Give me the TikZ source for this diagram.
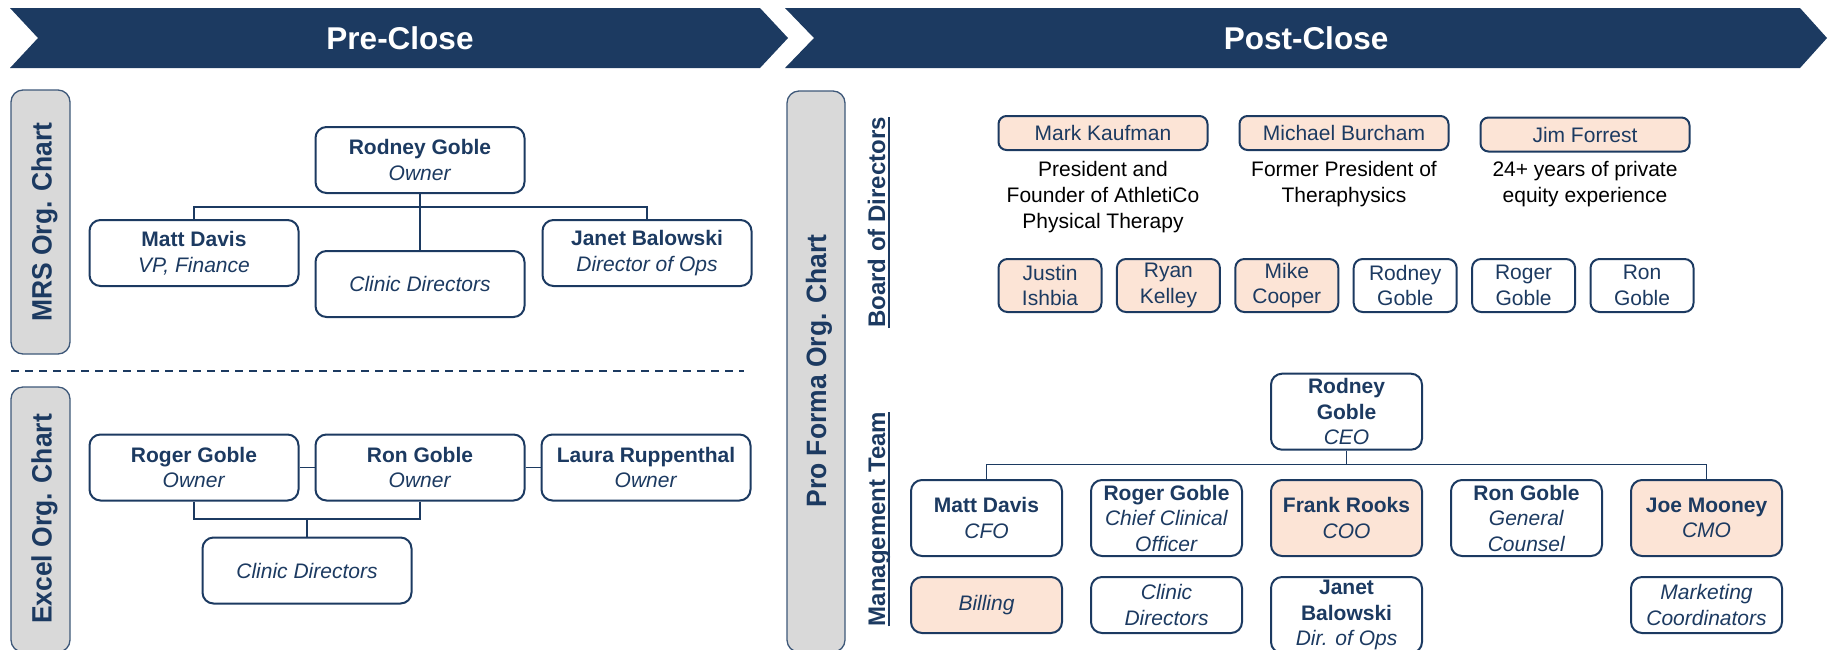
\documentclass[tikz,border=0pt]{standalone}
\usepackage{fontspec}
\setmainfont{Liberation Sans}
\newfontfamily\labelfont{Liberation Sans}[FakeStretch=0.945]
\usepackage{tikz}
\usetikzlibrary{positioning}
\usepackage{xcolor}
\definecolor{navy}{HTML}{1C3A61}
\definecolor{peach}{HTML}{FCE4D6}
\definecolor{panelgrey}{HTML}{D9D9D9}

\begin{document}
\begin{tikzpicture}[
    x=1pt, y=-1pt,
    orgbox/.style={rectangle, rounded corners=11pt, draw=navy, line width=2pt, fill=white, text=navy, align=center, inner sep=0pt, font=\fontsize{21}{25.5}\selectfont},
    peachbox/.style={orgbox, fill=peach},
    mainbox/.style={minimum width=209pt, minimum height=66pt},
    mgmtbox/.style={minimum width=151pt, minimum height=76pt},
    lowbox/.style={minimum width=151pt, minimum height=56pt},
    namebox/.style={minimum width=209pt, minimum height=34pt, rounded corners=8pt},
    smallbox/.style={minimum width=103pt, minimum height=53pt, rounded corners=9pt},
    link/.style={draw=navy, line width=1.5pt},
    banner/.style={fill=navy},
    bannertitle/.style={text=white, font=\bfseries\fontsize{31.5}{36}\selectfont},
    sidepanel/.style={fill=panelgrey, draw=navy!85, line width=1.3pt, rounded corners=12pt},
    sidetitle/.style={rotate=90, anchor=base, inner sep=0pt, text=navy, font=\labelfont\bfseries\fontsize{28}{32}\selectfont},
    teamtitle/.style={rotate=90, anchor=base, inner sep=0pt, text=navy, font=\bfseries\fontsize{24}{28}\selectfont},
    teamrule/.style={draw=navy, line width=1.8pt},
    bio/.style={align=center, inner sep=0pt, font=\fontsize{21}{26}\selectfont}
]
    \useasboundingbox (0,0) rectangle (1835,649);
    \clip (0,0) rectangle (1835,649);

    % Banners
    \fill[banner] (10,8) -- (760,8) -- (788,38) -- (760,68) -- (10,68) -- (38,38) -- cycle;
    \fill[banner] (785,8) -- (1800,8) -- (1827,38) -- (1800,68) -- (785,68) -- (814,38) -- cycle;
    \node[bannertitle] (pretitle) at (400,38) {Pre-Close};
    \node[bannertitle] (posttitle) at (1306,38) {Post-Close};

    % Side panels
    \draw[sidepanel] (11,90) rectangle (70,354);
    \node[sidetitle] (mrslabel) at (51.5,222) {MRS Org. Chart};
    \draw[sidepanel] (11,387) rectangle (70,652);
    \node[sidetitle] (excellabel) at (51.5,519) {Excel Org. Chart};
    \draw[sidepanel] (787,91) rectangle (845,652);
    \node[sidetitle] (proformalabel) at (826,371) {Pro Forma Org. Chart};

    \draw[navy, line width=2pt, dash pattern=on 8pt off 6pt] (11,370.5) -- (744,370.5);

    % MRS chart
    \node[orgbox, mainbox] (mrsowner) at (420,160) {\textbf{Rodney Goble}\\\textit{Owner}};
    \node[orgbox, mainbox] (mrsfin) at (194,253) {\textbf{Matt Davis}\\\textit{VP, Finance}};
    \node[orgbox, mainbox] (mrsclinic) at (420,284) {\textit{Clinic Directors}};
    \node[orgbox, mainbox] (mrsops) at (647,253) {\textbf{Janet Balowski}\\\textit{Director of Ops}};
    \coordinate (mrsbus) at (420,207);
    \draw[link] (mrsowner.south) -- (mrsclinic.north);
    \draw[link] (mrsfin.north) |- (mrsbus) -| (mrsops.north);

    % Excel chart
    \node[orgbox, mainbox] (roger) at (194,467.5) {\textbf{Roger Goble}\\\textit{Owner}};
    \node[orgbox, mainbox, right=15pt of roger] (ron) {\textbf{Ron Goble}\\\textit{Owner}};
    \node[orgbox, mainbox, right=15pt of ron] (laura) {\textbf{Laura Ruppenthal}\\\textit{Owner}};
    \node[orgbox, mainbox] (exclinic) at (307,570.5) {\textit{Clinic Directors}};
    \coordinate (excelbus) at (307,519);
    \draw[link] (roger) -- (ron);
    \draw[link] (ron) -- (laura);
    \draw[link] (roger.south) |- (excelbus) -| (ron.south);
    \draw[link] (excelbus) -- (exclinic.north);

    % Board of directors
    \node[teamtitle] (boardlabel) at (885,222.5) {Board of Directors};
    \draw[teamrule] ([xshift=4pt]boardlabel.base west) -- ([xshift=4pt]boardlabel.base east);

    \node[peachbox, namebox] (kaufman) at (1103,133) {Mark Kaufman};
    \node[peachbox, namebox, right=30pt of kaufman] (burcham) {Michael Burcham};
    \node[peachbox, namebox, right=30pt of burcham, yshift=-1.5pt] (forrest) {Jim Forrest};
    \node[bio, below=10pt of kaufman] (kaufmanbio) {President and\\Founder of AthletiCo\\Physical Therapy};
    \node[bio, below=10pt of burcham] (burchambio) {Former President of\\Theraphysics};
    \node[bio, below=8.5pt of forrest] (forrestbio) {24+ years of private\\equity experience};

    \node[peachbox, smallbox] (ishbia) at (1050,285.5) {Justin\\Ishbia};
    \node[peachbox, smallbox, right=13.4pt of ishbia] (kelley) {Ryan\\Kelley};
    \node[peachbox, smallbox, right=13.4pt of kelley] (cooper) {Mike\\Cooper};
    \node[orgbox, smallbox, right=13.4pt of cooper] (rodneyboard) {Rodney\\Goble};
    \node[orgbox, smallbox, right=13.4pt of rodneyboard] (rogerboard) {Roger\\Goble};
    \node[orgbox, smallbox, right=13.4pt of rogerboard] (ronboard) {Ron\\Goble};

    % Management team
    \node[teamtitle] (mgmtlabel) at (885,519) {Management Team};
    \draw[teamrule] ([xshift=4pt]mgmtlabel.base west) -- ([xshift=4pt]mgmtlabel.base east);

    \node[orgbox, mgmtbox] (ceo) at (1346.5,411.7) {\textbf{Rodney}\\\textbf{Goble}\\\textit{CEO}};
    \node[orgbox, mgmtbox] (cfo) at (986.5,518) {\textbf{Matt Davis}\\\textit{CFO}};
    \node[orgbox, mgmtbox, right=27pt of cfo] (cco) {\textbf{Roger Goble}\\\textit{Chief Clinical}\\\textit{Officer}};
    \node[peachbox, mgmtbox, right=27pt of cco] (coo) {\textbf{Frank Rooks}\\\textit{COO}};
    \node[orgbox, mgmtbox, right=27pt of coo] (counsel) {\textbf{Ron Goble}\\\textit{General}\\\textit{Counsel}};
    \node[peachbox, mgmtbox, right=27pt of counsel] (cmo) {\textbf{Joe Mooney}\\\textit{CMO}};

    \node[peachbox, lowbox, below=19pt of cfo] (billing) {\textit{Billing}};
    \node[orgbox, lowbox, below=19pt of cco] (clinicdirs) {\textit{Clinic}\\\textit{Directors}};
    \node[orgbox, mgmtbox, below=19pt of coo] (opsdir) {\textbf{Janet}\\\textbf{Balowski}\\\textit{Dir. of Ops}};
    \node[orgbox, lowbox, below=19pt of cmo] (marketing) {\textit{Marketing}\\\textit{Coordinators}};

    \coordinate (mgmtbus) at (1346.5,464.3);
    \draw[link] (ceo.south) -- (mgmtbus);
    \draw[link] (cfo.north) |- (mgmtbus) -| (cmo.north);

\end{tikzpicture}
\end{document}
